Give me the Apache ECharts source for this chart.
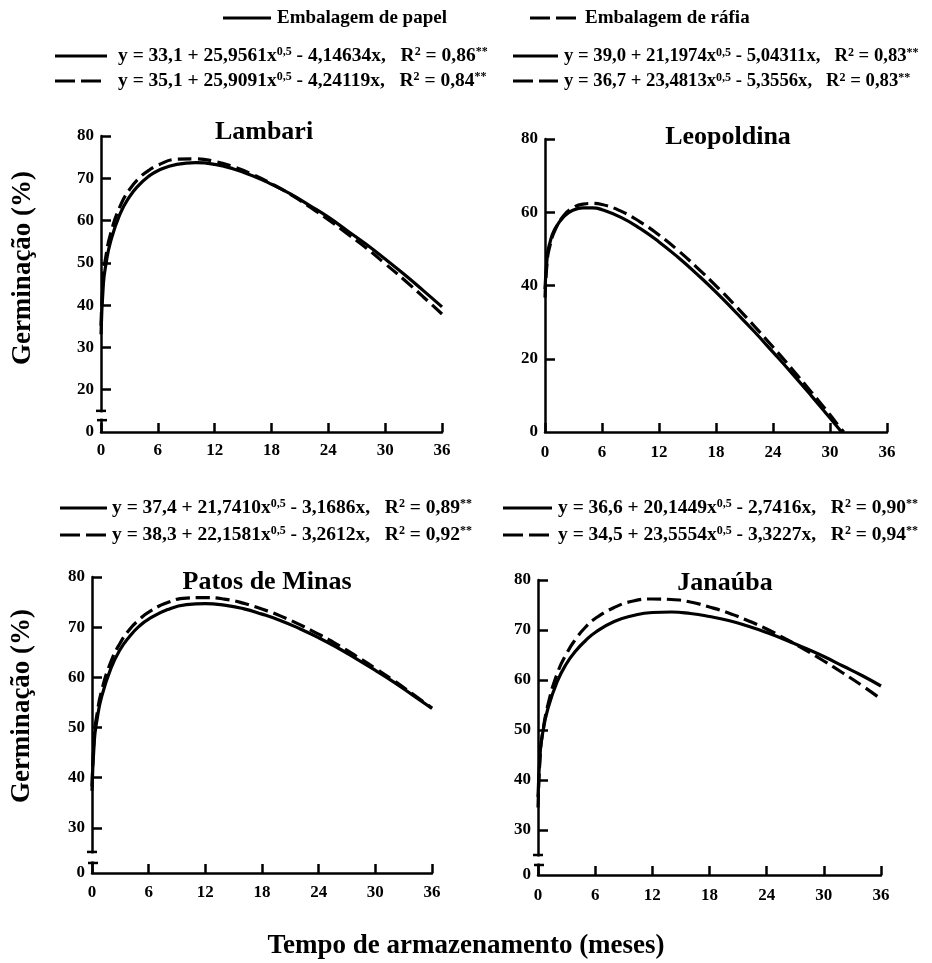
<!DOCTYPE html>
<html>
<head>
<meta charset="utf-8">
<script src="https://cdn.jsdelivr.net/npm/echarts@6/dist/echarts.min.js"></script>
<style>
html,body{margin:0;padding:0;background:#fff;}
#chart{width:932px;height:963px;}
</style>
</head>
<body>
<div id="chart"></div>
<script>
// ---------- data ----------
const xMonths = [0,0.25,0.5,1,2,3,4,5,6,8,10,12,14,16,18,20,22,24,26,28,30,32,34,36];
const xLeoPapel = [0,0.25,0.5,1,2,3,4,5,6,8,10,12,14,16,18,20,22,24,26,28,30,31,31.2];
const xLeoRafia = [0,0.25,0.5,1,2,3,4,5,6,8,10,12,14,16,18,20,22,24,26,28,30,31,31.45];

const lambariPapel = [33.1,45.0,49.4,54.9,61.5,65.6,68.4,70.4,71.8,73.3,73.7,73.3,72.2,70.6,68.6,66.3,63.6,60.8,57.6,54.4,50.9,47.3,43.5,39.6];
const lambariRafia = [35.1,47.0,51.3,56.8,63.3,67.3,70.0,71.8,73.1,74.5,74.6,74.0,72.7,70.9,68.7,66.2,63.3,60.2,56.9,53.5,49.8,46.0,42.0,37.9];
const leopoldinaPapel = [39.0,48.3,51.5,55.2,58.9,60.6,61.2,61.2,60.7,58.6,55.6,51.9,47.7,43.1,38.2,32.9,27.5,21.8,16.0,10.0,3.8,0.7,0];
const leopoldinaRafia = [36.7,47.1,50.6,54.8,59.2,61.3,62.2,62.4,62.1,60.3,57.4,53.8,49.6,44.9,39.9,34.6,29.0,23.2,17.2,11.0,4.7,1.4,0];
const patosPapel = [37.4,47.5,51.2,56.0,61.8,65.6,68.2,70.2,71.6,73.5,74.5,74.7,74.4,73.7,72.6,71.3,69.7,67.9,65.9,63.7,61.4,59.0,56.4,53.8];
const patosRafia = [38.3,48.6,52.3,57.2,63.1,66.9,69.6,71.5,73.0,74.9,75.8,75.9,75.6,74.8,73.6,72.2,70.5,68.6,66.5,64.2,61.8,59.3,56.6,53.9];
const janaubaPapel = [36.6,46.0,49.5,54.0,59.6,63.3,65.9,67.9,69.5,71.7,72.9,73.5,73.6,73.3,72.7,71.9,70.8,69.5,68.0,66.4,64.7,62.8,60.9,58.8];
const janaubaRafia = [34.5,45.5,49.5,54.7,61.2,65.3,68.3,70.6,72.3,74.5,75.8,76.2,76.1,75.6,74.6,73.4,71.9,70.2,68.2,66.1,63.8,61.4,58.9,56.2];

const panelTitles = ['Lambari','Leopoldina','Patos de Minas','Janaúba'];
const yTicksLambari = [20,30,40,50,60,70,80];
const yTicksLeopoldina = [20,40,60,80];
const yTicksLower = [30,40,50,60,70,80];

const legendLabels = ['Embalagem de papel','Embalagem de ráfia'];
// equations: [intercept, coef sqrt, coef x, R2]
const eqLambariPapel = ['33,1','25,9561','4,14634','0,86'];
const eqLambariRafia = ['35,1','25,9091','4,24119','0,84'];
const eqLeoPapel = ['39,0','21,1974','5,04311','0,83'];
const eqLeoRafia = ['36,7','23,4813','5,3556','0,83'];
const eqPatosPapel = ['37,4','21,7410','3,1686','0,89'];
const eqPatosRafia = ['38,3','22,1581','3,2612','0,92'];
const eqJanPapel = ['36,6','20,1449','2,7416','0,90'];
const eqJanRafia = ['34,5','23,5554','3,3227','0,94'];

// ---------- layout ----------
const FONT = '"Liberation Serif", "Times New Roman", serif';
const panels = [
  {grid:{left:101,top:136,width:341,height:296}, yMin:10, yTicks:yTicksLambari, brk:[12.8,15.0],
   papel:[xMonths,lambariPapel], rafia:[xMonths,lambariRafia], tpos:[264,132], labMargin:10},
  {grid:{left:545,top:139,width:342,height:293}, yMin:0, yTicks:yTicksLeopoldina, brk:null,
   papel:[xLeoPapel,leopoldinaPapel], rafia:[xLeoRafia,leopoldinaRafia], tpos:[728,137], labMargin:12},
  {grid:{left:92,top:577,width:340,height:296}, yMin:21, yTicks:yTicksLower, brk:[23.0,25.2],
   papel:[xMonths,patosPapel], rafia:[xMonths,patosRafia], tpos:[267,582], labMargin:11},
  {grid:{left:538,top:580,width:343,height:295}, yMin:21, yTicks:yTicksLower, brk:[23.0,25.0],
   papel:[xMonths,janaubaPapel], rafia:[xMonths,janaubaRafia], tpos:[725,583], labMargin:12}
];

const axisLineStyle = {color:'#000', width:2.5};
const grids=[], xAxes=[], yAxes=[], series=[];
panels.forEach((p,i)=>{
  grids.push(Object.assign({containLabel:false, outerBoundsMode:'none'}, p.grid));
  xAxes.push({
    type:'value', gridIndex:i, min:0, max:36, interval:6,
    axisLine:{show:true, onZero:false, lineStyle:axisLineStyle},
    axisTick:{show:true, inside:true, length:9, lineStyle:axisLineStyle},
    axisLabel:{color:'#000', fontFamily:FONT, fontWeight:'bold', fontSize:17, margin:p.labMargin, showMinLabel:true, showMaxLabel:true},
    splitLine:{show:false}
  });
  const labelVals = [p.yMin].concat(p.yTicks);
  const ymin = p.yMin;
  yAxes.push({
    type:'value', gridIndex:i, min:p.yMin, max:80,
    axisLine:{show:true, onZero:false, lineStyle:axisLineStyle},
    axisTick:{show:true, inside:true, length:10, customValues:p.yTicks, lineStyle:axisLineStyle},
    axisLabel:{color:'#000', fontFamily:FONT, fontWeight:'bold', fontSize:17, margin:7,
      customValues:labelVals, formatter:(v)=> (v===ymin ? '0' : String(v))},
    splitLine:{show:false}
  });
  const mk = (xs,ys)=> xs.map((x,k)=>[x,ys[k]]);
  series.push({type:'line', xAxisIndex:i, yAxisIndex:i, data:mk(p.papel[0],p.papel[1]),
    symbol:'none', smooth:0.5, z:3,
    lineStyle:{color:'#000', width:3.2, type:'solid'}});
  series.push({type:'line', xAxisIndex:i, yAxisIndex:i, data:mk(p.rafia[0],p.rafia[1]),
    symbol:'none', smooth:0.5, z:3,
    lineStyle:{color:'#000', width:3.2, type:[14,6]}});
});

const chart = echarts.init(document.getElementById('chart'), null, {renderer:'canvas'});
chart.setOption({
  animation:false, backgroundColor:'#fff',
  grid:grids, xAxis:xAxes, yAxis:yAxes, series:series
});

// ---------- texts & decorations ----------
const g = [];
function makeRich(size){
  return {
    n:{fontFamily:FONT, fontWeight:'bold', fontSize:size, color:'#000'},
    s:{fontFamily:FONT, fontWeight:'bold', fontSize:Math.round(size*0.62), color:'#000', verticalAlign:'top'}
  };
}
function eqStr(e){
  return '{n|y = '+e[0]+' + '+e[1]+'x}{s|0,5}{n| - '+e[2]+'x,   R}{s|2}{n| = '+e[3]+'}{s|**}';
}
function seg(x1,x2,y,dashed){
  g.push({type:'line', shape:{x1:x1,y1:y,x2:x2,y2:y},
    style:{stroke:'#000', lineWidth:3, lineDash: dashed ? [20,6] : null}, z:10});
}
function eq(x,y,e,size){
  g.push({type:'text', x:x, y:y, z:10,
    style:{text:eqStr(e), rich:makeRich(size), fill:'#000', align:'left', verticalAlign:'middle'}});
}
function label(x,y,text){
  g.push({type:'text', x:x, y:y, z:10,
    style:{text:text, font:'bold 19px '+FONT, fill:'#000', align:'left', verticalAlign:'middle'}});
}
// top legend
seg(223,271,18,false); label(277,18,legendLabels[0]);
seg(530,578,18,true);  label(585,18,legendLabels[1]);
// top equations
seg(55,107,56,false); eq(118,56,eqLambariPapel,19.5);
seg(55,107,81,true);  eq(118,81,eqLambariRafia,19.5);
seg(513,558,56,false); eq(564,56,eqLeoPapel,18.7);
seg(513,558,81,true);  eq(564,81,eqLeoRafia,18.7);
// bottom equations
seg(60,107,508,false); eq(112,508,eqPatosPapel,19.5);
seg(60,107,535,true);  eq(112,535,eqPatosRafia,19.5);
seg(503,552,508,false); eq(558,508,eqJanPapel,19.5);
seg(503,552,535,true);  eq(558,535,eqJanRafia,19.5);

// panel titles
panels.forEach((p,i)=>{
  g.push({type:'text', x:p.tpos[0], y:p.tpos[1], z:10,
    style:{text:panelTitles[i], font:'bold 26px '+FONT, fill:'#000', align:'center', verticalAlign:'middle'}});
});
// axis titles
[[23,268],[22,706]].forEach(pt=>{
  g.push({type:'text', x:pt[0], y:pt[1], rotation:Math.PI/2, z:10,
    style:{text:'Germinação (%)', font:'bold 27px '+FONT, fill:'#000', align:'center', verticalAlign:'middle'}});
});
g.push({type:'text', x:466, y:946, z:10,
  style:{text:'Tempo de armazenamento (meses)', font:'bold 27px '+FONT, fill:'#000', align:'center', verticalAlign:'middle'}});

// axis breaks
panels.forEach((p,i)=>{
  if(!p.brk) return;
  const lo = chart.convertToPixel({gridIndex:i},[0,p.brk[0]]);
  const hi = chart.convertToPixel({gridIndex:i},[0,p.brk[1]]);
  const x0 = lo[0];
  g.push({type:'rect', shape:{x:x0-5, y:hi[1]+1.5, width:10, height:lo[1]-hi[1]-3}, style:{fill:'#fff'}, z:20});
  g.push({type:'line', shape:{x1:x0-5,y1:hi[1],x2:x0+5,y2:hi[1]}, style:{stroke:'#000',lineWidth:2.5}, z:21});
  g.push({type:'line', shape:{x1:x0-4,y1:lo[1],x2:x0+6,y2:lo[1]}, style:{stroke:'#000',lineWidth:2.5}, z:21});
});

chart.setOption({graphic:{elements:g}});
</script>
</body>
</html>
